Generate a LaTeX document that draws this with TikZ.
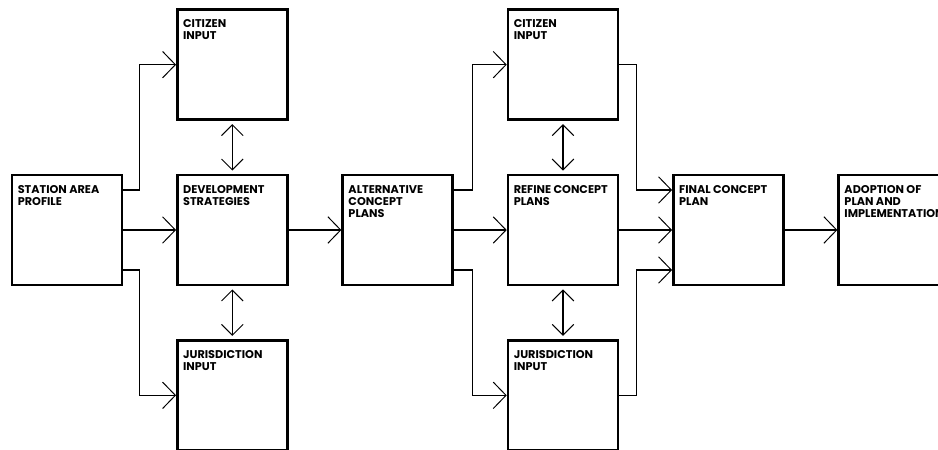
\documentclass[tikz,border=0pt]{standalone}
\usepackage{fontspec}
\setsansfont{Poppins}
\usetikzlibrary{arrows.meta,positioning}

\begin{document}
\begin{tikzpicture}[node distance=1.32cm and 1.32cm,font=\sffamily]
\tikzset{box/.style={draw,line width=1.8pt,minimum width=2.75cm,minimum height=2.75cm,inner sep=0pt},
         lbl/.style={inner sep=0pt,align=left,font=\sffamily\bfseries\fontsize{8}{8.5}\selectfont},
         barb/.tip={Straight Barb[length=3.2mm,width=6.6mm,line width=0.7pt]},
         sbarb/.tip={Straight Barb[length=2.7mm,width=5.4mm,line width=0.7pt]},
         flow/.style={-barb,line width=0.75pt},
         link/.style={sbarb-sbarb,line width=0.75pt,shorten >=0.8mm,shorten <=0.8mm}}
\clip (-1.675,5.75) rectangle (21.775,-5.475);
\node[box] (sap) {};
\node[box,right=of sap] (dev) {};
\node[box,above=of dev] (cit1) {};
\node[box,below=of dev] (jur1) {};
\node[box,right=of dev] (alt) {};
\node[box,right=of alt] (ref) {};
\node[box,above=of ref] (cit2) {};
\node[box,below=of ref] (jur2) {};
\node[box,right=of ref] (fin) {};
\node[box,right=of fin] (adp) {};
% box texts
\node[lbl,below right=2.8mm and 1.7mm of sap.north west] (sap-t) {STATION AREA\\PROFILE};
\node[lbl,below right=2.8mm and 1.7mm of dev.north west] (dev-t) {DEVELOPMENT\\STRATEGIES};
\node[lbl,below right=2.8mm and 1.7mm of cit1.north west] (cit1-t) {CITIZEN\\INPUT};
\node[lbl,below right=2.8mm and 1.7mm of jur1.north west] (jur1-t) {JURISDICTION\\INPUT};
\node[lbl,below right=2.8mm and 1.7mm of alt.north west] (alt-t) {ALTERNATIVE\\CONCEPT\\PLANS};
\node[lbl,below right=2.8mm and 1.7mm of ref.north west] (ref-t) {REFINE CONCEPT\\PLANS};
\node[lbl,below right=2.8mm and 1.7mm of cit2.north west] (cit2-t) {CITIZEN\\INPUT};
\node[lbl,below right=2.8mm and 1.7mm of jur2.north west] (jur2-t) {JURISDICTION\\INPUT};
\node[lbl,below right=2.8mm and 1.7mm of fin.north west] (fin-t) {FINAL CONCEPT\\PLAN};
\node[lbl,below right=2.8mm and 1.7mm of adp.north west] (adp-t) {ADOPTION OF\\PLAN AND\\IMPLEMENTATION};
% connectors
\draw[flow] (sap) -- (dev);
\draw[flow] ([yshift=1cm]sap.east) -- ++(.4,0) |- (cit1);
\draw[flow] ([yshift=-1cm]sap.east) -- ++(.4,0) |- (jur1);
\draw[link] (cit1) -- (dev);
\draw[link] (dev) -- (jur1);
\draw[flow] (dev) -- (alt);
\draw[flow] (alt) -- (ref);
\draw[flow] ([yshift=1cm]alt.east) -- ++(.47,0) |- (cit2);
\draw[flow] ([yshift=-1cm]alt.east) -- ++(.47,0) |- (jur2);
\draw[link] (cit2) -- (ref);
\draw[link] (ref) -- (jur2);
\draw[flow] (cit2.east) -- ++(.42,0) |- ([yshift=1cm]fin.west);
\draw[flow] (ref) -- (fin);
\draw[flow] (jur2.east) -- ++(.42,0) |- ([yshift=-1cm]fin.west);
\draw[flow] (fin) -- (adp);
\end{tikzpicture}
\end{document}
